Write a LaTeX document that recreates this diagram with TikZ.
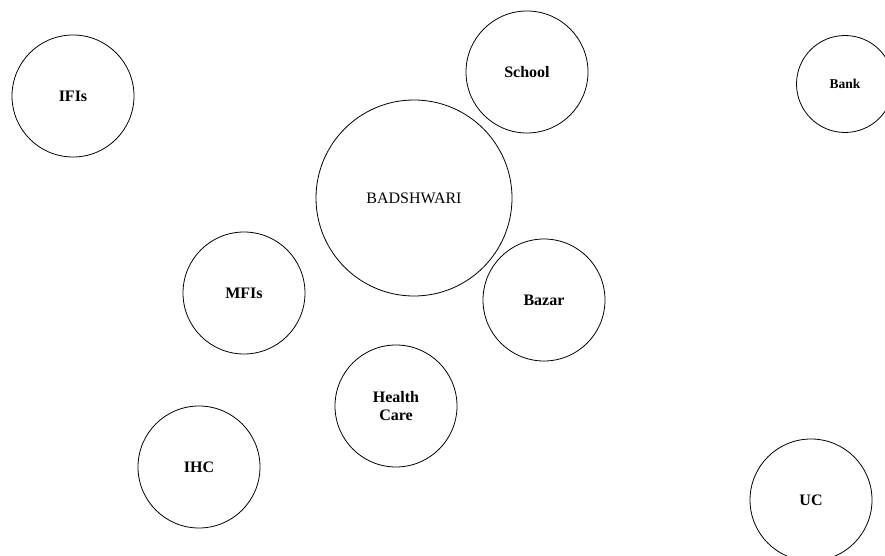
\documentclass[tikz,border=0pt]{standalone}
\usepackage{fontspec}
\setmainfont{Liberation Serif}
\begin{document}
\begin{tikzpicture}[x=1pt,y=-1pt,
  place/.style={draw=black,line width=0.8pt,circle,inner sep=0pt,
    minimum size=122pt,font=\fontsize{16}{18}\selectfont\bfseries,align=center},
  hub/.style={place,minimum size=196pt,font=\fontsize{16}{18}\selectfont}]
\useasboundingbox (0,0) rectangle (885,556);
\begin{scope}
\clip (0,0) rectangle (885,556);
\node[hub] (bad) at (414,198) {BADSHWARI};
\node[place] (ifis) at (73,96) {IFIs};
\node[place] (school) at (527,72) {School};
\node[place,minimum size=97pt,font=\fontsize{13.5}{16}\selectfont\bfseries] (bank) at (845,84) {Bank};
\node[place] (mfis) at (244,293) {MFIs};
\node[place] (bazar) at (544,300) {Bazar};
\node[place] (health) at (396,406) {Health\\Care};
\node[place] (ihc) at (199,467) {IHC};
\node[place] (uc) at (811,500) {UC};
\end{scope}
\end{tikzpicture}
\end{document}
